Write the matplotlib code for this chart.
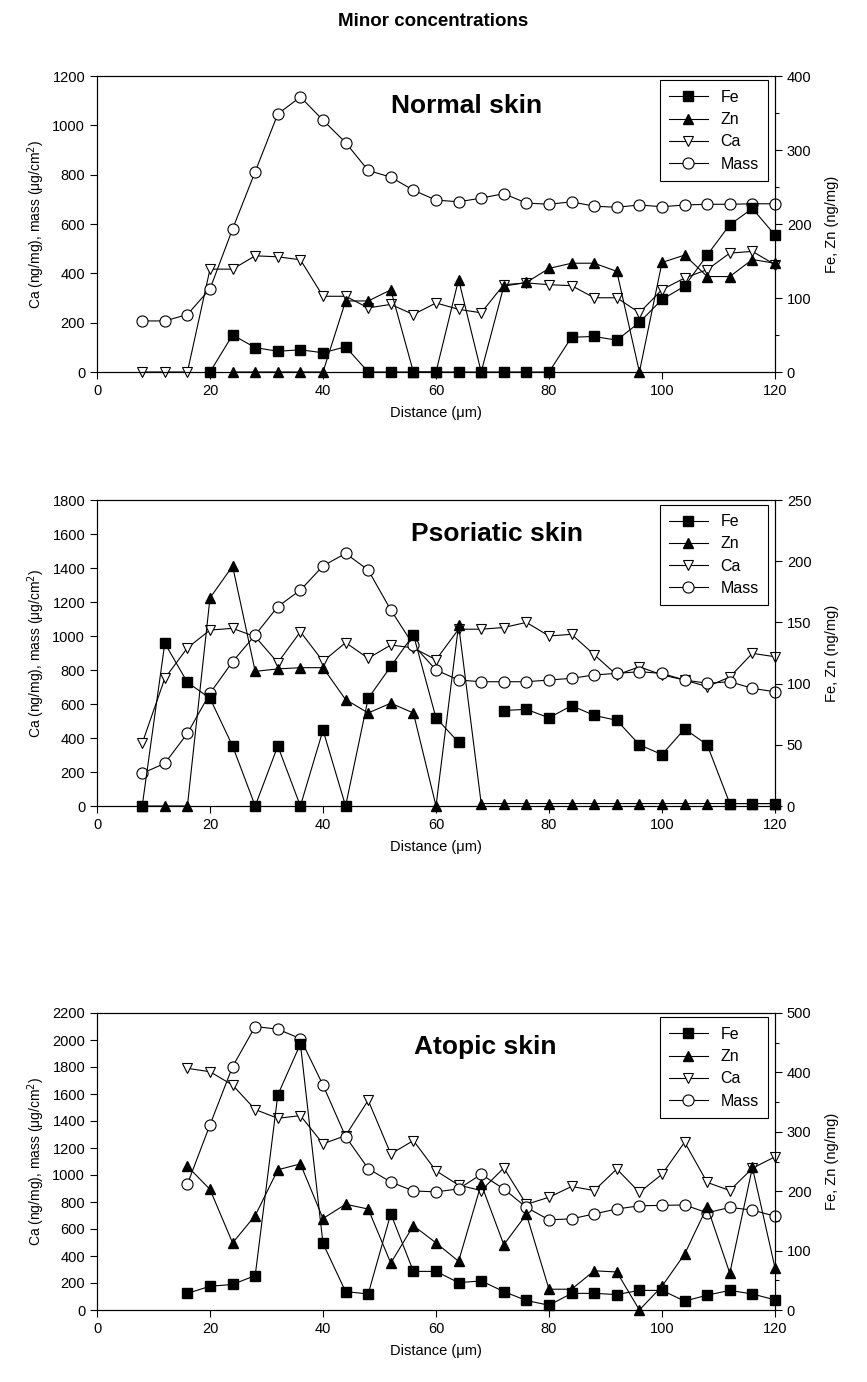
"""Minor element concentrations (Fe, Zn, Ca) and mass across skin sections."""
import matplotlib

matplotlib.use("Agg")
import matplotlib.pyplot as plt
import numpy as np
from matplotlib.ticker import MultipleLocator

plt.rcParams["font.family"] = ["Liberation Sans", "DejaVu Sans"]

# --- Normal skin -------------------------------------------------------------
DIST_NORMAL = [8, 12, 16, 20, 24, 28, 32, 36, 40, 44, 48, 52, 56, 60, 64,
               68, 72, 76, 80, 84, 88, 92, 96, 100, 104, 108, 112, 116, 120]
MASS_NORMAL = [207, 207, 233, 337, 580, 812, 1046, 1115, 1021, 930, 817, 790,
               737, 697, 690, 705, 723, 685, 680, 690, 672, 668, 677, 670,
               677, 680, 680, 682, 682]
CA_NORMAL = [0, 0, 0, 417, 417, 471, 467, 455, 307, 307, 260, 274, 233, 280,
             254, 240, 354, 361, 354, 350, 301, 301, 240, 334, 381, 415, 482,
             489, 435]
DIST_FE_NORMAL = [20, 24, 28, 32, 36, 40, 44, 48, 52, 56, 60, 64, 68, 72, 76,
                  80, 84, 88, 92, 96, 100, 104, 108, 112, 116, 120]
FE_NORMAL = [0, 50, 33, 28, 30, 26, 34, 0, 0, 0, 0, 0, 0, 0, 0, 0, 47, 48, 43,
             67, 98, 116, 158, 199, 221, 185]
DIST_ZN_NORMAL = [24, 28, 32, 36, 40, 44, 48, 52, 56, 60, 64, 68, 72, 76, 80,
                  84, 88, 92, 96, 100, 104, 108, 112, 116, 120]
ZN_NORMAL = [0, 0, 0, 0, 0, 96, 96, 111, 0, 0, 125, 0, 116, 121, 140, 147,
             147, 136, 0, 148, 158, 129, 129, 152, 147]

# --- Psoriatic skin ----------------------------------------------------------
DIST_PSORIATIC = [8, 12, 16, 20, 24, 28, 32, 36, 40, 44, 48, 52, 56, 60, 64,
                  68, 72, 76, 80, 84, 88, 92, 96, 100, 104, 108, 112, 116, 120]
MASS_PSORIATIC = [192, 251, 427, 663, 849, 1006, 1173, 1270, 1412, 1486, 1388,
                  1153, 947, 800, 741, 731, 731, 731, 741, 751, 771, 780, 790,
                  780, 741, 722, 731, 692, 672]
CA_PSORIATIC = [369, 751, 930, 1035, 1045, 996, 843, 1025, 851, 961, 869, 947,
                930, 860, 1040, 1040, 1050, 1080, 1000, 1010, 890, 771, 819,
                771, 741, 702, 759, 898, 878]
FE_PSORIATIC = [0, 133, 101, 88, 49, 0, 49, 0, 62, 0, 88, 114, 140, 72, 52,
                np.nan, 78, 79, 72, 82, 74, 70, 50, 42, 63, 50, 2, 2, 2]
ZN_PSORIATIC = [0, 0, 0, 170, 196, 110, 112, 113, 113, 87, 76, 84, 76, 0, 148,
                2, 2, 2, 2, 2, 2, 2, 2, 2, 2, 2, 2, 2, 2]

# --- Atopic skin -------------------------------------------------------------
DIST_ATOPIC = [16, 20, 24, 28, 32, 36, 40, 44, 48, 52, 56, 60, 64, 68, 72, 76,
               80, 84, 88, 92, 96, 100, 104, 108, 112, 116, 120]
MASS_ATOPIC = [932, 1372, 1803, 2100, 2080, 2010, 1666, 1285, 1047, 948, 882,
               875, 897, 1005, 897, 760, 668, 675, 712, 748, 772, 775, 778,
               720, 760, 740, 695]
CA_ATOPIC = [1790, 1765, 1666, 1485, 1420, 1440, 1231, 1292, 1553, 1156, 1255,
             1031, 925, 885, 1052, 783, 835, 915, 885, 1044, 872, 1005, 1243,
             945, 885, 1050, 1135]
FE_ATOPIC = [28, 40, 43, 58, 362, 448, 112, 31, 27, 162, 65, 65, 46, 49, 31,
             16, 8, 28, 28, 26, 33, 33, 15, 25, 33, 27, 17]
ZN_ATOPIC = [242, 203, 113, 159, 236, 246, 154, 178, 170, 79, 142, 113, 82,
             212, 110, 161, 35, 35, 66, 64, 0, 40, 94, 174, 62, 240, 71]

DIST_TICKS = [0, 20, 40, 60, 80, 100, 120]

FIG_W, FIG_H = 867, 1382


def rect_from_px(left, top, right, bottom):
    """Axes rectangle in figure fraction from pixel edges."""
    return [left / FIG_W, 1 - bottom / FIG_H,
            (right - left) / FIG_W, (bottom - top) / FIG_H]


def draw_panel(fig, rect, title, title_xy, mass_x, mass, ca_x, ca, fe_x, fe,
               zn_x, zn, left_max, right_max, right_step, right_minor):
    ax = fig.add_axes(rect)
    ax2 = ax.twinx()

    line_kw = dict(color="black", lw=0.8, clip_on=False)
    h_ca, = ax.plot(ca_x, ca, marker="v", ms=7.5, mfc="white", mec="black",
                    mew=0.8, label="Ca", **line_kw)
    h_mass, = ax.plot(mass_x, mass, marker="o", ms=8, mfc="white",
                      mec="black", mew=0.8, label="Mass", **line_kw)
    h_fe, = ax2.plot(fe_x, fe, marker="s", ms=6.5, mfc="black", mec="black",
                     label="Fe", **line_kw)
    h_zn, = ax2.plot(zn_x, zn, marker="^", ms=7.5, mfc="black", mec="black",
                     label="Zn", **line_kw)

    ax.set_xlim(0, 120)
    ax.set_ylim(0, left_max)
    ax2.set_ylim(0, right_max)
    ax.set_xticks(DIST_TICKS)
    ax.yaxis.set_major_locator(MultipleLocator(200))
    ax2.yaxis.set_major_locator(MultipleLocator(right_step))
    if right_minor:
        ax2.yaxis.set_minor_locator(MultipleLocator(right_minor))

    for a in (ax, ax2):
        a.tick_params(direction="out", length=5, width=0.8, labelsize=10.5)
        a.tick_params(which="minor", direction="out", length=3, width=0.8)
        for sp in a.spines.values():
            sp.set_linewidth(0.8)

    ax.set_xlabel("Distance (μm)", fontsize=10.5, labelpad=6)
    ax.set_ylabel("Ca (ng/mg), mass (μg/cm$^2$)", fontsize=10, labelpad=4)
    ax2.set_ylabel("Fe, Zn (ng/mg)", fontsize=10.5, labelpad=10)

    ax.text(title_xy[0], title_xy[1], title, transform=ax.transAxes,
            ha="center", va="center", fontsize=19, fontweight="bold")

    leg = ax2.legend([h_fe, h_zn, h_ca, h_mass], ["Fe", "Zn", "Ca", "Mass"],
                     loc="upper right", bbox_to_anchor=(0.99, 0.985),
                     borderaxespad=0, fontsize=11.5, frameon=True,
                     fancybox=False, framealpha=1, edgecolor="black",
                     handlelength=2.4, labelspacing=0.45, borderpad=0.6)
    leg.get_frame().set_linewidth(0.8)
    return ax, ax2


def main():
    fig = plt.figure(figsize=(FIG_W / 100, FIG_H / 100), dpi=100)
    fig.text(0.5, 1 - 22 / FIG_H, "Minor concentrations", ha="center",
             va="center", fontsize=13.5, fontweight="bold")

    draw_panel(fig, rect_from_px(97, 76, 775, 372), "Normal skin",
               (0.545, 0.9),
               DIST_NORMAL, MASS_NORMAL, DIST_NORMAL, CA_NORMAL,
               DIST_FE_NORMAL, FE_NORMAL, DIST_ZN_NORMAL, ZN_NORMAL,
               1200, 400, 100, 50)
    draw_panel(fig, rect_from_px(97, 500, 775, 806), "Psoriatic skin",
               (0.59, 0.89),
               DIST_PSORIATIC, MASS_PSORIATIC, DIST_PSORIATIC, CA_PSORIATIC,
               DIST_PSORIATIC, FE_PSORIATIC, DIST_PSORIATIC, ZN_PSORIATIC,
               1800, 250, 50, None)
    draw_panel(fig, rect_from_px(97, 1013, 775, 1310), "Atopic skin",
               (0.572, 0.885),
               DIST_ATOPIC, MASS_ATOPIC, DIST_ATOPIC, CA_ATOPIC,
               DIST_ATOPIC, FE_ATOPIC, DIST_ATOPIC, ZN_ATOPIC,
               2200, 500, 100, 50)

    fig.savefig("out.png", dpi=100)


if __name__ == "__main__":
    main()
